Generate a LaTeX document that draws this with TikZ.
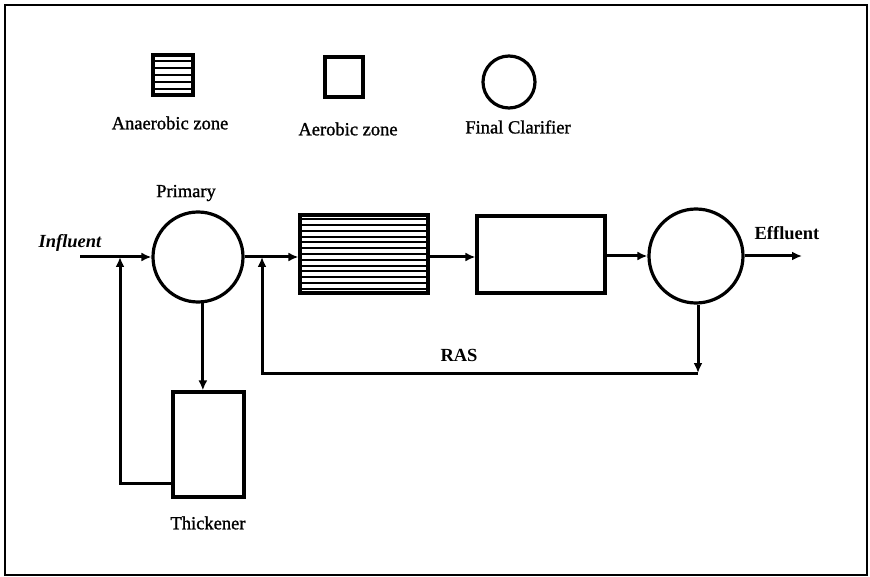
\documentclass[tikz,border=0pt]{standalone}
\usepackage{fontspec}
\setmainfont{Liberation Serif}
\newfontfamily\heavyserif[FakeBold=1.2]{Liberation Serif}
\usetikzlibrary{arrows.meta,calc}
\begin{document}
\begin{tikzpicture}[x=1pt,y=-1pt,
  shp/.style={draw,line width=3.2pt,inner sep=0pt},
  circ/.style={shp,circle},
  boxx/.style={shp,rectangle},
  conn/.style={line width=3pt},
  arr/.style={conn,-{Latex[length=10pt,width=9pt]}},
  stripe/.style={line width=2.1pt},
  lbl/.style={font=\fontsize{18.5}{20}\selectfont\heavyserif,inner sep=0pt},
  blbl/.style={lbl,font=\fontsize{18.5}{20}\selectfont\bfseries}]
\useasboundingbox (0,0) rectangle (870,577);
\draw[line width=2pt] (5,5) rectangle (867,575);

% legend
\node[boxx,minimum width=40pt,minimum height=40pt] (lanae) at (173,75) {};
\foreach \i in {1,...,5}
  \draw[stripe] ($(lanae.north west)!\i/6!(lanae.south west)$) -- ($(lanae.north east)!\i/6!(lanae.south east)$);
\node[boxx,minimum width=38pt,minimum height=40pt] (laero) at (344,77) {};
\node[circ,minimum size=52pt] (lclar) at (509,82) {};
\node[lbl] (tanae) at (170,123) {Anaerobic zone};
\node[lbl] (taero) at (348,129) {Aerobic zone};
\node[lbl] (tclar) at (518,127) {Final Clarifier};

% process units
\node[circ,minimum size=90pt] (prim) at (198,257) {};
\node[boxx,minimum width=128pt,minimum height=78pt] (anae) at (364,254) {};
\foreach \i in {1,...,13}
  \draw[stripe] ($(anae.north west)!\i/14!(anae.south west)$) -- ($(anae.north east)!\i/14!(anae.south east)$);
\node[boxx,minimum width=128pt,minimum height=77pt] (aero) at (541,254.5) {};
\node[circ,minimum size=94pt] (clar) at (696,256) {};
\node[boxx,minimum width=71pt,minimum height=105pt] (thick) at (208.5,444.5) {};

% labels
\node[lbl,font=\fontsize{18.5}{20}\selectfont\bfseries\itshape] (tin) at (70,243) {Influent};
\node[lbl] (tprim) at (186,193) {Primary};
\node[blbl] (teff) at (787,233) {Effluent};
\node[blbl] (tras) at (459,355) {RAS};
\node[lbl] (tthick) at (208,523) {Thickener};

% coordinates
\coordinate (in) at (80,257);
\coordinate (eff) at (802,256);
\coordinate (j1) at (120,257);
\coordinate (r1) at (120,483);
\coordinate (j2) at (262,257);
\coordinate (rasL) at (262,373);
\coordinate (rasR) at (698,373);

% connectors
\draw[arr] (in) -- (prim.west |- in);
\draw[arr] (prim.east |- j2) -- (anae.west |- j2);
\draw[arr] (anae.east |- j2) -- (aero.west |- j2);
\draw[arr] (aero.east |- clar.west) -- (clar.west);
\draw[arr] (clar.east) -- (eff);
\draw[arr] (clar.south -| rasR) -- (rasR);
\draw[arr] (rasR) -- (rasL) -- (j2);
\draw[arr] (prim.-84) -- (prim.-84 |- thick.north);
\draw[arr] (thick.west |- r1) -- (r1) -- (j1);
\end{tikzpicture}
\end{document}
